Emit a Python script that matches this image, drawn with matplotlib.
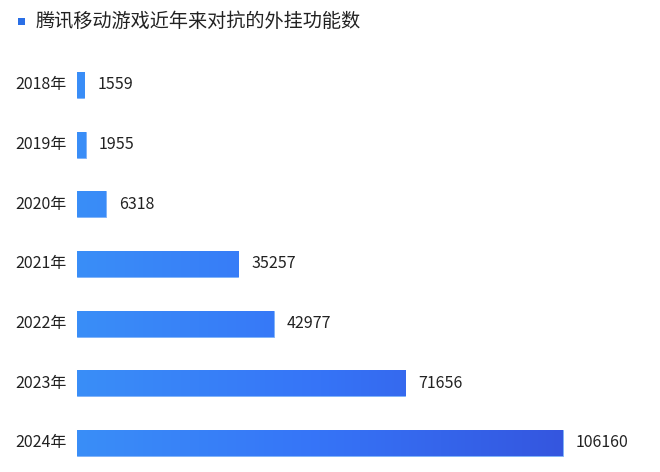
import matplotlib
matplotlib.use("Agg")
import matplotlib.pyplot as plt
import numpy as np
from matplotlib.colors import LinearSegmentedColormap
from matplotlib.patches import Rectangle

plt.rcParams['font.family'] = ['Noto Sans CJK SC', 'DejaVu Sans']

title = "腾讯移动游戏近年来对抗的外挂功能数"
years = ["2018年", "2019年", "2020年", "2021年", "2022年", "2023年", "2024年"]
values = [1559, 1955, 6318, 35257, 42977, 71656, 106160]

W, H = 660, 472
fig = plt.figure(figsize=(W / 100, H / 100), dpi=100)

ax_left, ax_right = 77, 645
ax_top, ax_bottom = 55, 468
ax = fig.add_axes([ax_left / W, 1 - ax_bottom / H, (ax_right - ax_left) / W, (ax_bottom - ax_top) / H])

vmax = max(values)
xmax = vmax * (ax_right - ax_left) / (563 - ax_left)
spacing = (443 - 85) / 6

cmap = LinearSegmentedColormap.from_list("g", ["#3a8ef8", "#3674f7", "#3456df"])
grad = np.linspace(0, 1, 256).reshape(1, -1)
bar_h = 0.44
for i, v in enumerate(values):
    rect = Rectangle((0, i - bar_h / 2), v, bar_h, facecolor="none", edgecolor="#6aa6f7", linewidth=0.6)
    ax.add_patch(rect)
    im = ax.imshow(grad, cmap=cmap, aspect="auto", extent=(0, vmax, i + bar_h / 2, i - bar_h / 2),
                   interpolation="bilinear", zorder=1)
    im.set_clip_path(rect)
    ax.annotate(str(v), xy=(v, i), xytext=(13, 0), textcoords="offset pixels",
                ha="left", va="center", fontsize=11.5, color="#222222")
    ax.annotate(years[i], xy=(0, i), xytext=(-10, 0), textcoords="offset pixels",
                ha="right", va="center", fontsize=11.5, color="#222222", annotation_clip=False)

ax.set_xlim(0, xmax)
ax.set_ylim((ax_bottom - 443) / spacing + 6, -(85 - ax_top) / spacing)
ax.axis("off")

fig.patches.append(Rectangle((18 / W, 1 - 25 / H), 7 / W, 7 / H, transform=fig.transFigure,
                             facecolor="#2a6fe6", edgecolor="none"))
fig.text(35 / W, 1 - 21 / H, title, ha="left", va="center", fontsize=13.8, color="#222222")

fig.savefig("out.png", dpi=100)
